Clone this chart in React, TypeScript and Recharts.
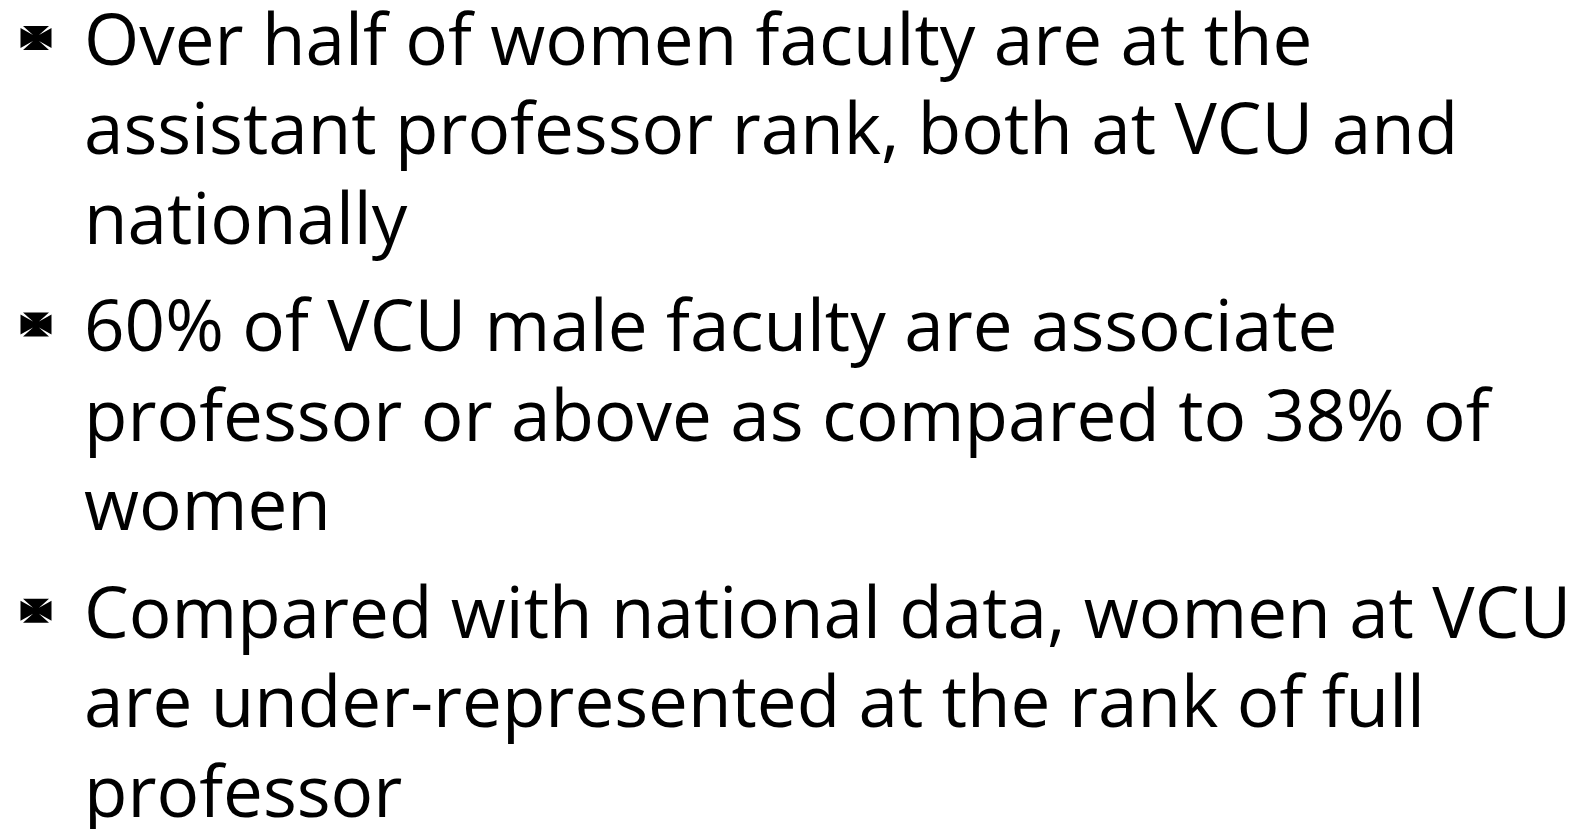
import { ScatterChart, Scatter, XAxis, YAxis } from 'recharts'

// bullet points, each one wrapped into the lines seen on the slide
const bullets: string[][] = [
  ['Over half of women faculty are at the', 'assistant professor rank, both at VCU and', 'nationally'],
  ['60% of VCU male faculty are associate', 'professor or above as compared to 38% of', 'women'],
  ['Compared with national data, women at VCU', 'are under-represented at the rank of full', 'professor'],
]

// extra space between bullets, in line units
const bulletGap = 0.2

const rows = bullets.flatMap((lines, b) =>
  lines.map((text, i) => ({
    indent: 0,
    slot: bullets.slice(0, b).reduce((n, l) => n + l.length, 0) + i + b * bulletGap,
    text,
    first: i === 0,
  }))
)

// cross pattee bullet, drawn around its centre
const W = 15.5
const H = 12
const a = 13
const b = 10
const c = 3
const crossPath = `M${-a},${-H} L${a},${-H} L${c},${-c} L${W},${-b} L${W},${b} L${c},${c} L${a},${H} L${-a},${H} L${-c},${c} L${-W},${b} L${-W},${-b} L${-c},${-c} Z`

const LineShape = (props: any) => {
  const { cx, cy, payload } = props
  return (
    <g>
      {payload.first && (
        <path d={crossPath} transform={`translate(${cx - 48},${cy - 27})`} fill="#000" />
      )}
      <text x={cx} y={cy} fill="#000" style={{ fontFamily: 'Open Sans', fontSize: 71 }}>
        {payload.text}
      </text>
    </g>
  )
}

export default function App() {
  return (
    <div style={{ position: 'absolute', left: 0, top: 0, background: '#fff' }}>
      <ScatterChart width={1575} height={829} margin={{ top: 0, right: 0, bottom: 0, left: 84 }}>
        <XAxis type="number" dataKey="indent" domain={[0, 1]} hide />
        <YAxis type="number" dataKey="slot" domain={[-0.726, 8.536]} reversed hide />
        <Scatter data={rows} shape={<LineShape />} isAnimationActive={false} />
      </ScatterChart>
    </div>
  )
}
